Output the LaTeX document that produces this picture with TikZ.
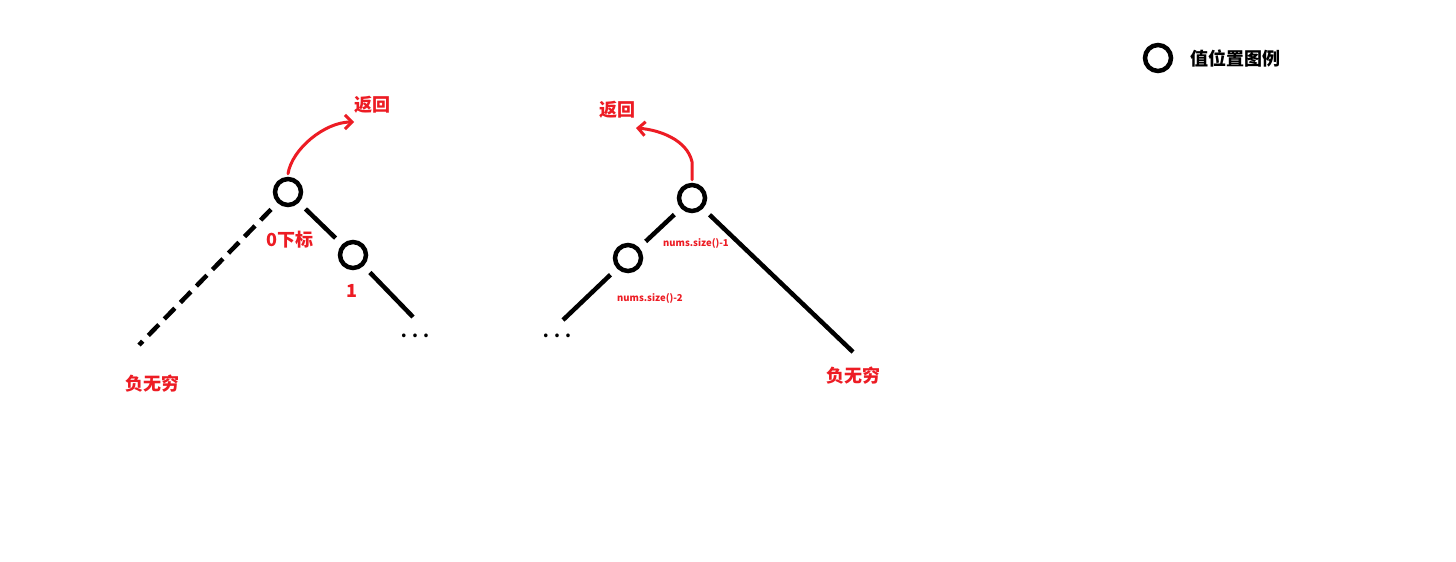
\documentclass[tikz,border=0pt]{standalone}
\usepackage{fontspec}
\newfontfamily\cjk{Noto Sans CJK SC}
\usetikzlibrary{arrows.meta}
\definecolor{pred}{HTML}{ED1C24}
\tikzset{
  valnode/.style={circle,draw=black,line width=4.5pt,minimum size=26pt,inner sep=0pt},
  edge/.style={draw=black,line width=4.5pt,shorten <=9pt},
  redlabel/.style={text=pred,font=\cjk\bfseries\fontsize{18}{20}\selectfont,inner sep=0pt},
  smalllabel/.style={text=pred,font=\cjk\bfseries\fontsize{9.5}{11}\selectfont,inner sep=0pt},
  blacklabel/.style={text=black,font=\cjk\bfseries\fontsize{18}{20}\selectfont,inner sep=0pt},
  dotslabel/.style={text=black,font=\cjk\bfseries\fontsize{17}{18}\selectfont,inner sep=0pt},
  retarrow/.style={draw=pred,line width=3pt,line cap=round,-{Straight Barb[length=7pt,width=14pt,line width=3pt]}}
}
\begin{document}
\begin{tikzpicture}[x=1pt,y=-1pt]
\useasboundingbox[fill=white] (0,0) rectangle (1456,562);

% left tree
\node[valnode] (L0) at (288,192) {};
\node[valnode] (L1) at (353,255) {};
\coordinate (Ldash) at (139,345);
\coordinate (Lend) at (413,317);
\draw[edge,shorten >=9pt] (L0) -- (L1);
\draw[edge] (L1) -- (Lend);
\draw[edge,dash pattern=on 15pt off 8pt] (L0) -- (Ldash);
\node[dotslabel] (Ldots) at (415,336) {. . .};
\node[redlabel] (L0lab) at (290,240) {0下标};
\node[redlabel] (L1lab) at (352,291) {1};
\node[redlabel] (Linf) at (152,384) {负无穷};
\node[redlabel] (Lret) at (372,105) {返回};
\coordinate (Larr) at (354,122);
\draw[retarrow] ([yshift=3pt]L0.north) .. controls ++(4,-25) and (325,122) .. (Larr);

% right tree
\node[valnode] (R0) at (692,198) {};
\node[valnode] (R1) at (628,258) {};
\coordinate (Rend) at (563,320);
\coordinate (Rinf) at (853,352);
\draw[edge,shorten >=9pt] (R0) -- (R1);
\draw[edge] (R1) -- (Rend);
\draw[edge] (R0) -- (Rinf);
\node[dotslabel] (Rdots) at (557,336) {. . .};
\node[smalllabel] (R0lab) at (696,243) {nums.size()-1};
\node[smalllabel] (R1lab) at (650,298) {nums.size()-2};
\node[redlabel] (Rinflab) at (853,376) {负无穷};
\node[redlabel] (Rret) at (617,110) {返回};
\coordinate (Rarr) at (636,128);
\draw[retarrow] ([yshift=3pt]R0.north) -- ++(0,-18) .. controls (687,140) and (660,130) .. (Rarr);

% legend
\node[valnode] (leg) at (1158,58) {};
\node[blacklabel,anchor=west] (legtxt) at (1190,58) {值位置图例};
\end{tikzpicture}
\end{document}
